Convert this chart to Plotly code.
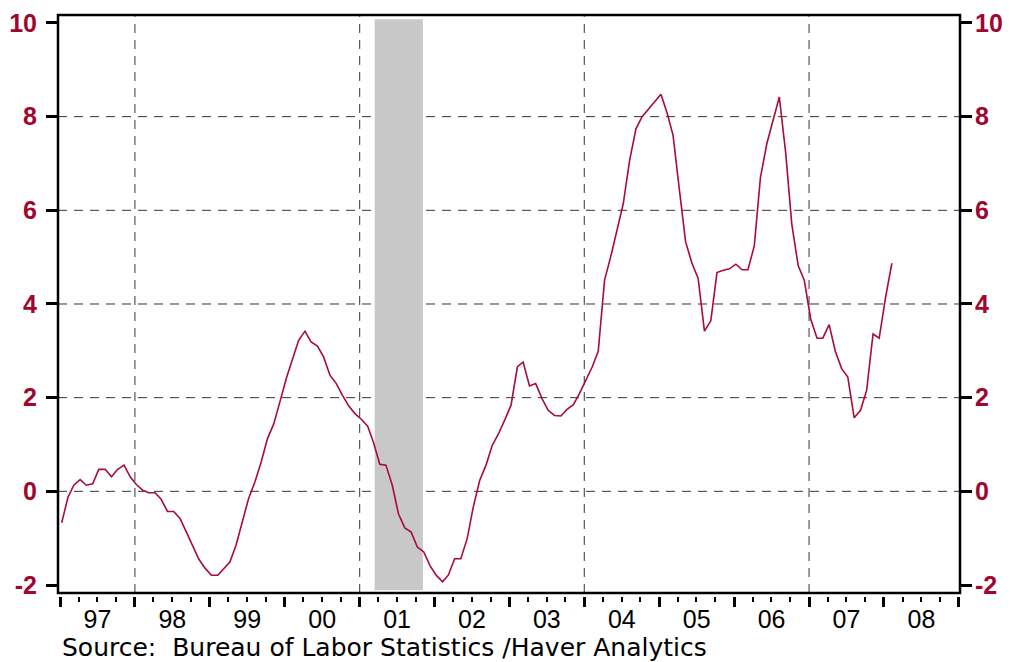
import pandas as pd
import plotly.graph_objects as go

# ---------------- data ----------------
start_month = "1997-01-01"
values = [
    -0.67, -0.12, 0.13, 0.25, 0.13, 0.16, 0.47, 0.47, 0.31, 0.47, 0.56, 0.31,   # 1997
    0.14, 0.02, -0.03, -0.03, -0.17, -0.43, -0.43, -0.58, -0.87, -1.15, -1.45, -1.64,  # 1998
    -1.79, -1.79, -1.65, -1.51, -1.15, -0.65, -0.16, 0.20, 0.63, 1.12, 1.44, 1.91,  # 1999
    2.41, 2.83, 3.22, 3.42, 3.19, 3.10, 2.87, 2.48, 2.30, 2.05, 1.82, 1.66,  # 2000
    1.54, 1.39, 1.05, 0.58, 0.56, 0.13, -0.48, -0.78, -0.87, -1.19, -1.29, -1.58,  # 2001
    -1.79, -1.93, -1.79, -1.44, -1.44, -1.01, -0.33, 0.23, 0.56, 0.98, 1.23, 1.52,  # 2002
    1.84, 2.66, 2.76, 2.25, 2.30, 1.98, 1.73, 1.62, 1.61, 1.75, 1.85, 2.09,  # 2003
    2.37, 2.66, 2.99, 4.51, 5.01, 5.57, 6.14, 7.06, 7.74, 8.00, 8.16, 8.30,  # 2004
    8.48, 8.06, 7.60, 6.43, 5.33, 4.87, 4.55, 3.42, 3.64, 4.67, 4.72, 4.75,  # 2005
    4.85, 4.73, 4.73, 5.24, 6.70, 7.42, 7.90, 8.42, 7.23, 5.70, 4.82, 4.50,  # 2006
    3.68, 3.27, 3.27, 3.56, 2.99, 2.62, 2.44, 1.57, 1.73, 2.16, 3.36, 3.27,  # 2007
    4.14, 4.87,  # 2008
]
dates = pd.date_range(start_month, periods=len(values), freq="MS") + pd.Timedelta(days=8)

recession_start = "2001-03-15"
recession_end = "2001-11-05"

y_ticks = [-2, 0, 2, 4, 6, 8, 10]
y_grid = [0, 2, 4, 6, 8]
x_grid = ["1998-01-01", "2001-01-01", "2004-01-01", "2007-01-01"]
x_range = ["1996-12-22", "2009-01-06"]
y_range = [-2.17, 10.17]

source_text = "Source:  Bureau of Labor Statistics /Haver Analytics"

# ---------------- style ----------------
LINE_COLOR = "#A80C38"
LABEL_COLOR = "#A0062E"
GRID_COLOR = "#333333"
DASH = "9px,7px"
FONT = "Liberation Sans, Arial, sans-serif"
SOURCE_FONT = "DejaVu Sans, Verdana, sans-serif"
Y_DOMAIN_BOTTOM = 0.0052

fig = go.Figure()
fig.add_trace(go.Scatter(
    x=dates, y=values, mode="lines",
    line=dict(color=LINE_COLOR, width=1.6),
    showlegend=False, hoverinfo="skip",
))
fig.add_trace(go.Scatter(
    x=[dates[0]], y=[values[0]], yaxis="y2", mode="lines",
    line=dict(width=0), showlegend=False, hoverinfo="skip",
))

shapes = []
shapes.append(dict(type="rect", xref="x", yref="y",
                   x0=recession_start, x1=recession_end, y0=-2.11, y1=10.08,
                   fillcolor="#C8C8C8", line=dict(width=0), layer="below"))
for g in y_grid:
    shapes.append(dict(type="line", xref="paper", yref="y", x0=0, x1=1, y0=g, y1=g,
                       line=dict(color=GRID_COLOR, width=1, dash=DASH), layer="below"))
for g in x_grid:
    shapes.append(dict(type="line", xref="x", yref="paper", x0=g, x1=g,
                       y0=Y_DOMAIN_BOTTOM, y1=1,
                       line=dict(color=GRID_COLOR, width=1, dash=DASH), layer="below"))
shapes.append(dict(type="rect", xref="paper", yref="paper", x0=0, x1=1,
                   y0=Y_DOMAIN_BOTTOM, y1=1,
                   line=dict(color="black", width=2.5), fillcolor="rgba(0,0,0,0)",
                   layer="above"))

yaxis_common = dict(
    range=y_range, domain=[Y_DOMAIN_BOTTOM, 1], automargin=False,
    tickmode="array", tickvals=y_ticks, ticktext=[str(t) for t in y_ticks],
    ticks="outside", ticklen=11, tickwidth=2.5, tickcolor="black",
    showgrid=False, zeroline=False, showline=False,
    tickfont=dict(family=FONT, size=25, color=LABEL_COLOR, weight="bold"),
)

fig.update_layout(
    width=1012, height=662,
    margin=dict(l=58, r=52, t=15, b=66, autoexpand=False),
    paper_bgcolor="white", plot_bgcolor="white",
    xaxis=dict(
        type="date", range=x_range, automargin=False,
        anchor="free", position=0,
        tickmode="linear", tick0="1997-01-01", dtick="M12",
        ticklabelmode="period", tickformat="%y",
        ticks="outside", ticklen=10, tickwidth=3, tickcolor="black",
        minor=dict(dtick="M3", tick0="1997-01-01", ticks="outside",
                   ticklen=5, tickwidth=1.5, tickcolor="black", showgrid=False),
        showgrid=False, zeroline=False, showline=False,
        tickfont=dict(family=FONT, size=25, color="black"),
        ticklabelstandoff=-9,
    ),
    yaxis=dict(side="left", ticklabelstandoff=4, **yaxis_common),
    yaxis2=dict(side="right", overlaying="y", anchor="x", ticklabelstandoff=-2,
                **yaxis_common),
    shapes=shapes,
    annotations=[dict(
        text=source_text, xref="paper", yref="paper",
        x=(61 - 58) / 902, y=-0.062, xanchor="left", yanchor="top",
        showarrow=False, borderpad=0,
        font=dict(family=SOURCE_FONT, size=25, color="black"),
    )],
)

fig.write_html(
    "out.html",
    config={"displayModeBar": False},
    post_script="document.body.style.margin='0';document.body.style.overflow='hidden';",
)
